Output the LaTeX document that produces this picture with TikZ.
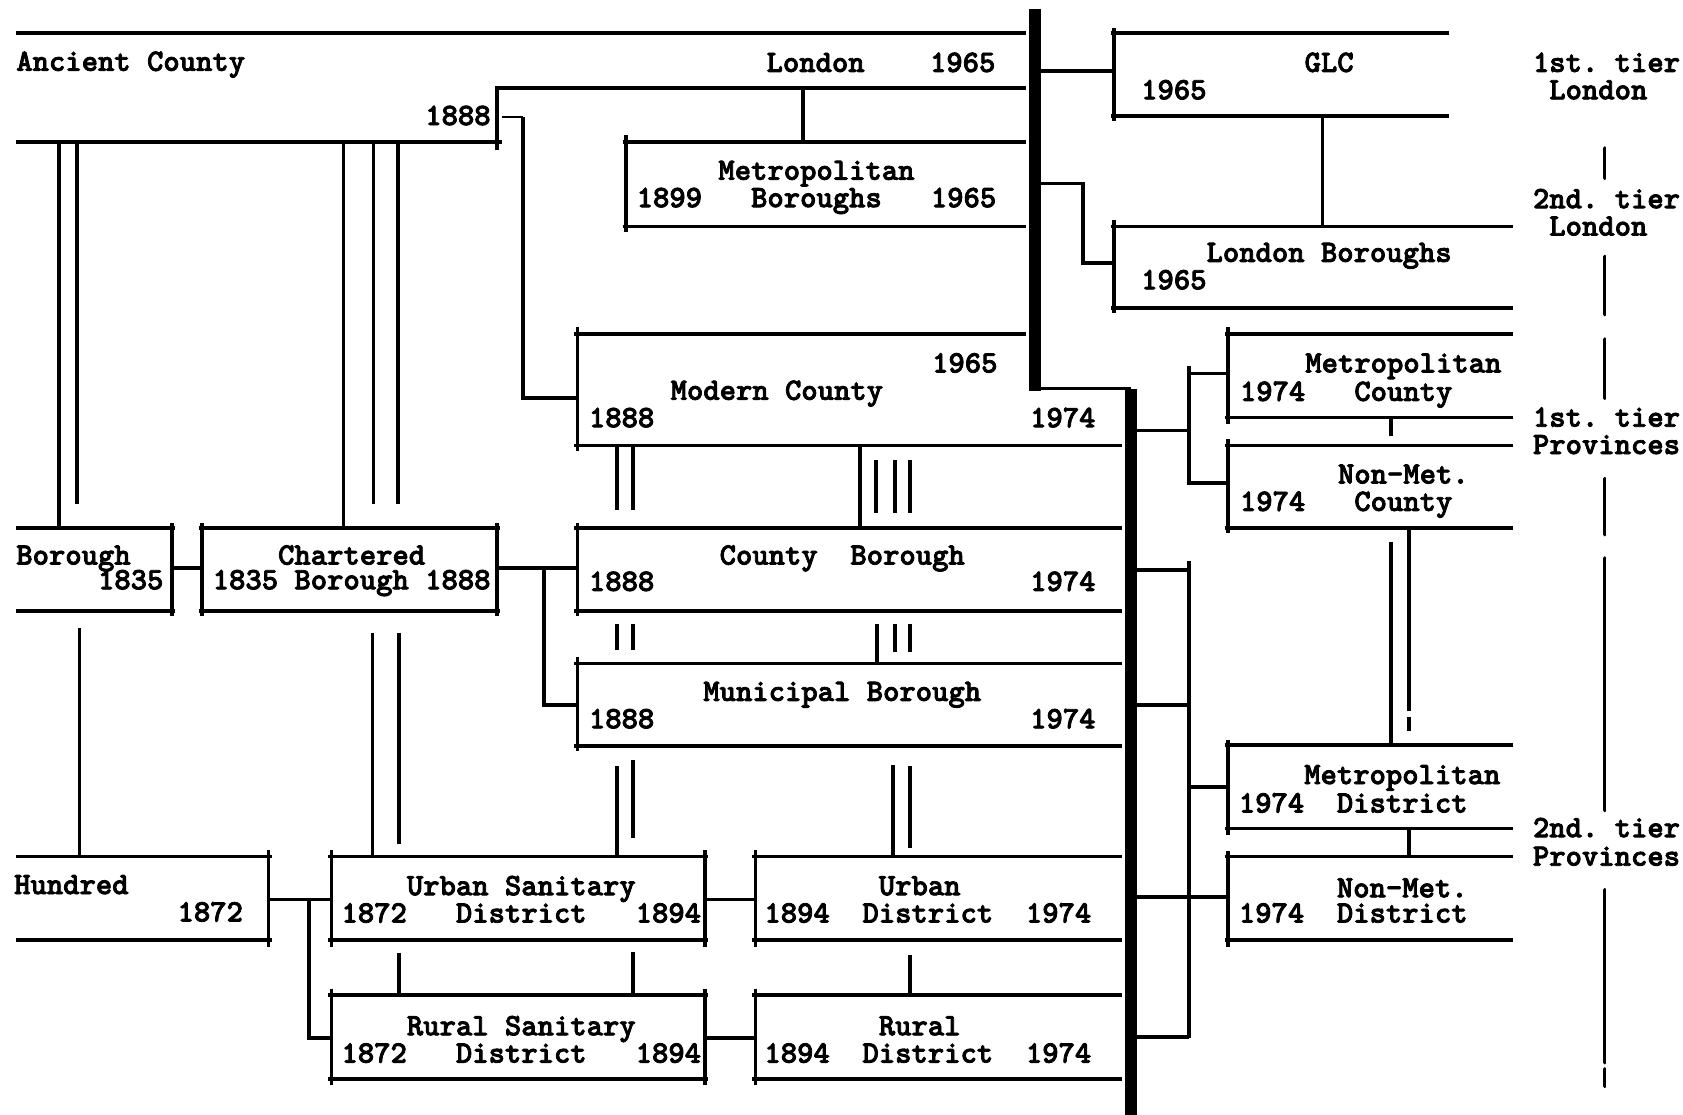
\documentclass[tikz,border=0pt]{standalone}
\usepackage{fontspec}
\usepackage{tikz}

\newfontfamily\typer{lmmonolt10-bold.otf}[FakeBold=2.5]
\newcommand{\boxfont}{\fontsize{29}{25.5}\selectfont\typer}
% blank of n characters in the typewriter face
\newcommand{\gap}[1]{\hspace*{#1\fontcharwd\font`0}}
\setlength{\lineskiplimit}{-30pt}

\begin{document}
\begin{tikzpicture}[x=1pt, y=-1pt,
    rule/.style={line width=3.4pt},
    bar/.style={line width=11pt},
    lbl/.style={anchor=base west, inner sep=0pt, align=left, font=\boxfont},
    tierline/.style={line width=3.4pt, line cap=round}]
    \useasboundingbox (0,0) rectangle (1568,1038);

    % Dividing bars
    \draw[bar] (964,8) -- (964,364);
    \draw[rule] (964,362) -- (1054,362);
    \draw[bar] (1054,362) -- (1054,1045);

    % Ancient County and London
    \draw[rule] (15,31) -- (956,31);
    \draw[rule] (15,132) -- (468,132);
    \draw[rule] (463,140) -- (463,82) -- (956,82);
    \node[lbl] (ancient) at (15,66) {Ancient County};
    \node[lbl] (london) at (714,67) {London\gap{4}1965};
    \node[lbl] (ancientend) at (396,116.5) {1888};
    \draw[line width=1.2pt] (468,109) -- (487,109);
    \draw[rule] (487,109) -- (487,371) -- (538,371);

    % Metropolitan Boroughs
    \draw[rule] (748,82) -- (748,132);
    \draw[rule] (580,132) -- (956,132);
    \draw[rule] (580,211) -- (956,211);
    \draw[rule] (583,126) -- (583,216);
    \node[lbl] (metbor) at (593,193) {\gap{5}Metropolitan\\1899\gap{3}Boroughs\gap{3}1965};

    % GLC
    \draw[rule] (970,66) -- (1038,66);
    \draw[rule] (1038,26) -- (1038,113);
    \draw[rule] (1035,31) -- (1350,31);
    \draw[rule] (1035,108) -- (1350,108);
    \node[lbl] (glc) at (1063,92.5) {\gap{10}GLC\\1965};
    \draw[rule] (1232,108) -- (1232,211);

    % London Boroughs
    \draw[rule] (970,171) -- (1009,171) -- (1009,245) -- (1038,245);
    \draw[rule] (1038,205) -- (1038,292);
    \draw[rule] (1035,211) -- (1410,211);
    \draw[rule] (1035,287) -- (1410,287);
    \node[lbl] (lonbor) at (1063,269.5) {\gap{4}London Boroughs\\1965};

    % Modern County
    \draw[rule] (535,311) -- (956,311);
    \draw[rule] (535,415) -- (1045,415);
    \draw[rule] (538,305) -- (538,420);
    \node[lbl] (modcounty) at (548.5,398) {\gap{21}1965\\\gap{5}Modern County\\1888\gap{23}1974};

    % Modern County to County Borough
    \draw[rule] (575,415) -- (575,475);
    \draw[rule] (590,415) -- (590,475);
    \draw[rule] (801,415) -- (801,492);
    \draw[rule] (816,429) -- (816,478);
    \draw[rule] (834,429) -- (834,478);
    \draw[rule] (848,429) -- (848,478);

    % County Borough
    \draw[rule] (535,492) -- (1045,492);
    \draw[rule] (535,569) -- (1045,569);
    \draw[rule] (538,487) -- (538,574);
    \node[lbl] (cobor) at (548.5,550.5) {\gap{8}County\gap{2}Borough\\[-1pt]1888\gap{23}1974};

    % County Borough to Municipal Borough
    \draw[rule] (575,581) -- (575,606);
    \draw[rule] (590,581) -- (590,606);
    \draw[rule] (817,581) -- (817,618);
    \draw[rule] (834,581) -- (834,607);
    \draw[rule] (848,581) -- (848,607);

    % Municipal Borough
    \draw[rule] (535,618) -- (1045,618);
    \draw[rule] (535,695) -- (1045,695);
    \draw[rule] (538,612) -- (538,700);
    \node[lbl] (munbor) at (548.5,678.5) {\gap{7}Municipal Borough\\1888\gap{23}1974};

    % Ancient County down to the boroughs
    \draw[rule] (55,132) -- (55,492);
    \draw[rule] (72,132) -- (72,470);
    \draw[rule] (320,132) -- (320,492);
    \draw[rule] (348,132) -- (348,470);
    \draw[rule] (371,132) -- (371,470);

    % Borough
    \draw[rule] (15,492) -- (163,492);
    \draw[rule] (15,569) -- (163,569);
    \draw[rule] (160,487) -- (160,574);
    \node[lbl] (borough) at (15,549) {Borough\\[-2.5pt]\gap{5}1835};
    \draw[rule] (160,529) -- (188,529);

    % Chartered Borough
    \draw[rule] (185,492) -- (466,492);
    \draw[rule] (185,569) -- (466,569);
    \draw[rule] (188,487) -- (188,574);
    \draw[rule] (463,487) -- (463,574);
    \node[lbl] (charter) at (198,549) {\gap{4}Chartered\\[-2.5pt]1835 Borough 1888};
    \draw[rule] (463,529) -- (538,529);
    \draw[rule] (507,529) -- (507,657) -- (538,657);

    % Down to the sanitary districts
    \draw[rule] (74,585) -- (74,798);
    \draw[rule] (347,590) -- (347,798);
    \draw[rule] (372,590) -- (372,786);
    \draw[rule] (575,714) -- (575,798);
    \draw[rule] (590,708) -- (590,781);
    \draw[rule] (832,713) -- (832,798);
    \draw[rule] (848,714) -- (848,790);

    % Hundred
    \draw[rule] (15,798) -- (253,798);
    \draw[rule] (15,876) -- (253,876);
    \draw[rule] (250,792) -- (250,882);
    \node[lbl] (hundred) at (13,858.5) {Hundred\\\gap{10}1872};
    \draw[rule] (250,838) -- (309,838);
    \draw[rule] (288,838) -- (288,967) -- (309,967);

    % Urban Sanitary District
    \draw[rule] (306,798) -- (660,798);
    \draw[rule] (306,876) -- (660,876);
    \draw[rule] (309,792) -- (309,882);
    \draw[rule] (657,792) -- (657,882);
    \node[lbl] (usd) at (318,859.5) {\gap{4}Urban Sanitary\\1872\gap{3}District\gap{3}1894};
    \draw[rule] (372,888) -- (372,927);
    \draw[rule] (590,887) -- (590,927);

    % Rural Sanitary District
    \draw[rule] (306,927) -- (660,927);
    \draw[rule] (306,1005) -- (660,1005);
    \draw[rule] (309,921) -- (309,1011);
    \draw[rule] (657,921) -- (657,1011);
    \node[lbl] (rsd) at (318,990) {\gap{4}Rural Sanitary\\1872\gap{3}District\gap{3}1894};
    \draw[rule] (657,838) -- (704,838);
    \draw[rule] (657,967) -- (704,967);

    % Urban District
    \draw[rule] (701,798) -- (1045,798);
    \draw[rule] (701,876) -- (1045,876);
    \draw[rule] (704,792) -- (704,882);
    \node[lbl] (ud) at (712,859.5) {\gap{7}Urban\\1894\gap{2}District\gap{2}1974};
    \draw[rule] (848,890) -- (848,927);

    % Rural District
    \draw[rule] (701,927) -- (1045,927);
    \draw[rule] (701,1005) -- (1045,1005);
    \draw[rule] (704,921) -- (704,1011);
    \node[lbl] (rd) at (712,990) {\gap{7}Rural\\1894\gap{2}District\gap{2}1974};

    % Provinces, first tier
    \draw[rule] (1059,401) -- (1108,401);
    \draw[rule] (1144,348) -- (1108,348) -- (1108,341);
    \draw[rule] (1108,348) -- (1108,450) -- (1144,450);
    \draw[rule] (1141,311) -- (1410,311);
    \draw[rule] (1141,389) -- (1410,389);
    \draw[rule] (1144,305) -- (1144,395);
    \node[lbl] (metcounty) at (1155,373.5) {\gap{4}Metropolitan\\[1pt]1974\gap{3}County};
    \draw[rule] (1296,389) -- (1296,406);
    \draw[rule] (1141,415) -- (1410,415);
    \draw[rule] (1141,492) -- (1410,492);
    \draw[rule] (1144,409) -- (1144,497);
    \node[lbl] (nmcounty) at (1155,476) {\gap{6}Non-Met.\\1974\gap{3}County};
    \draw[rule] (1313,492) -- (1313,662);
    \draw[rule] (1313,668) -- (1313,681);
    \draw[rule] (1296,505) -- (1296,694);

    % Provinces, second tier
    \draw[rule] (1059,531) -- (1108,531);
    \draw[rule] (1108,523) -- (1108,967);
    \draw[rule] (1059,657) -- (1108,657);
    \draw[rule] (1108,733) -- (1144,733);
    \draw[rule] (1059,836) -- (1144,836);
    \draw[rule] (1059,966) -- (1108,966);
    \draw[rule] (1141,694) -- (1410,694);
    \draw[rule] (1141,772) -- (1410,772);
    \draw[rule] (1144,689) -- (1144,778);
    \node[lbl] (metdist) at (1154,757) {\gap{4}Metropolitan\\[1pt]1974\gap{2}District};
    \draw[rule] (1313,772) -- (1313,798);
    \draw[rule] (1141,798) -- (1410,798);
    \draw[rule] (1141,876) -- (1410,876);
    \draw[rule] (1144,793) -- (1144,882);
    \node[lbl] (nmdist) at (1154,859.5) {\gap{6}Non-Met.\\[-2pt]1974\gap{2}District};

    % Tier labels
    \node[lbl] (tierA) at (1428,92.5) {1st.~tier\\\gap{1}London};
    \node[lbl] (tierB) at (1428,219.5) {2nd.~tier\\\gap{1}London};
    \node[lbl] (tierC) at (1428,423) {1st.~tier\\Provinces};
    \node[lbl] (tierD) at (1428,806.5) {2nd.~tier\\[1pt]Provinces};
    \draw[tierline] (1495,138) -- (1495,166);
    \draw[tierline] (1495,239) -- (1495,293);
    \draw[tierline] (1495,316) -- (1495,371);
    \draw[tierline] (1495,446) -- (1495,498);
    \draw[tierline] (1495,520) -- (1495,755);
    \draw[tierline] (1495,829) -- (1495,990);
    \draw[tierline] (1495,996) -- (1495,1012);
\end{tikzpicture}
\end{document}
